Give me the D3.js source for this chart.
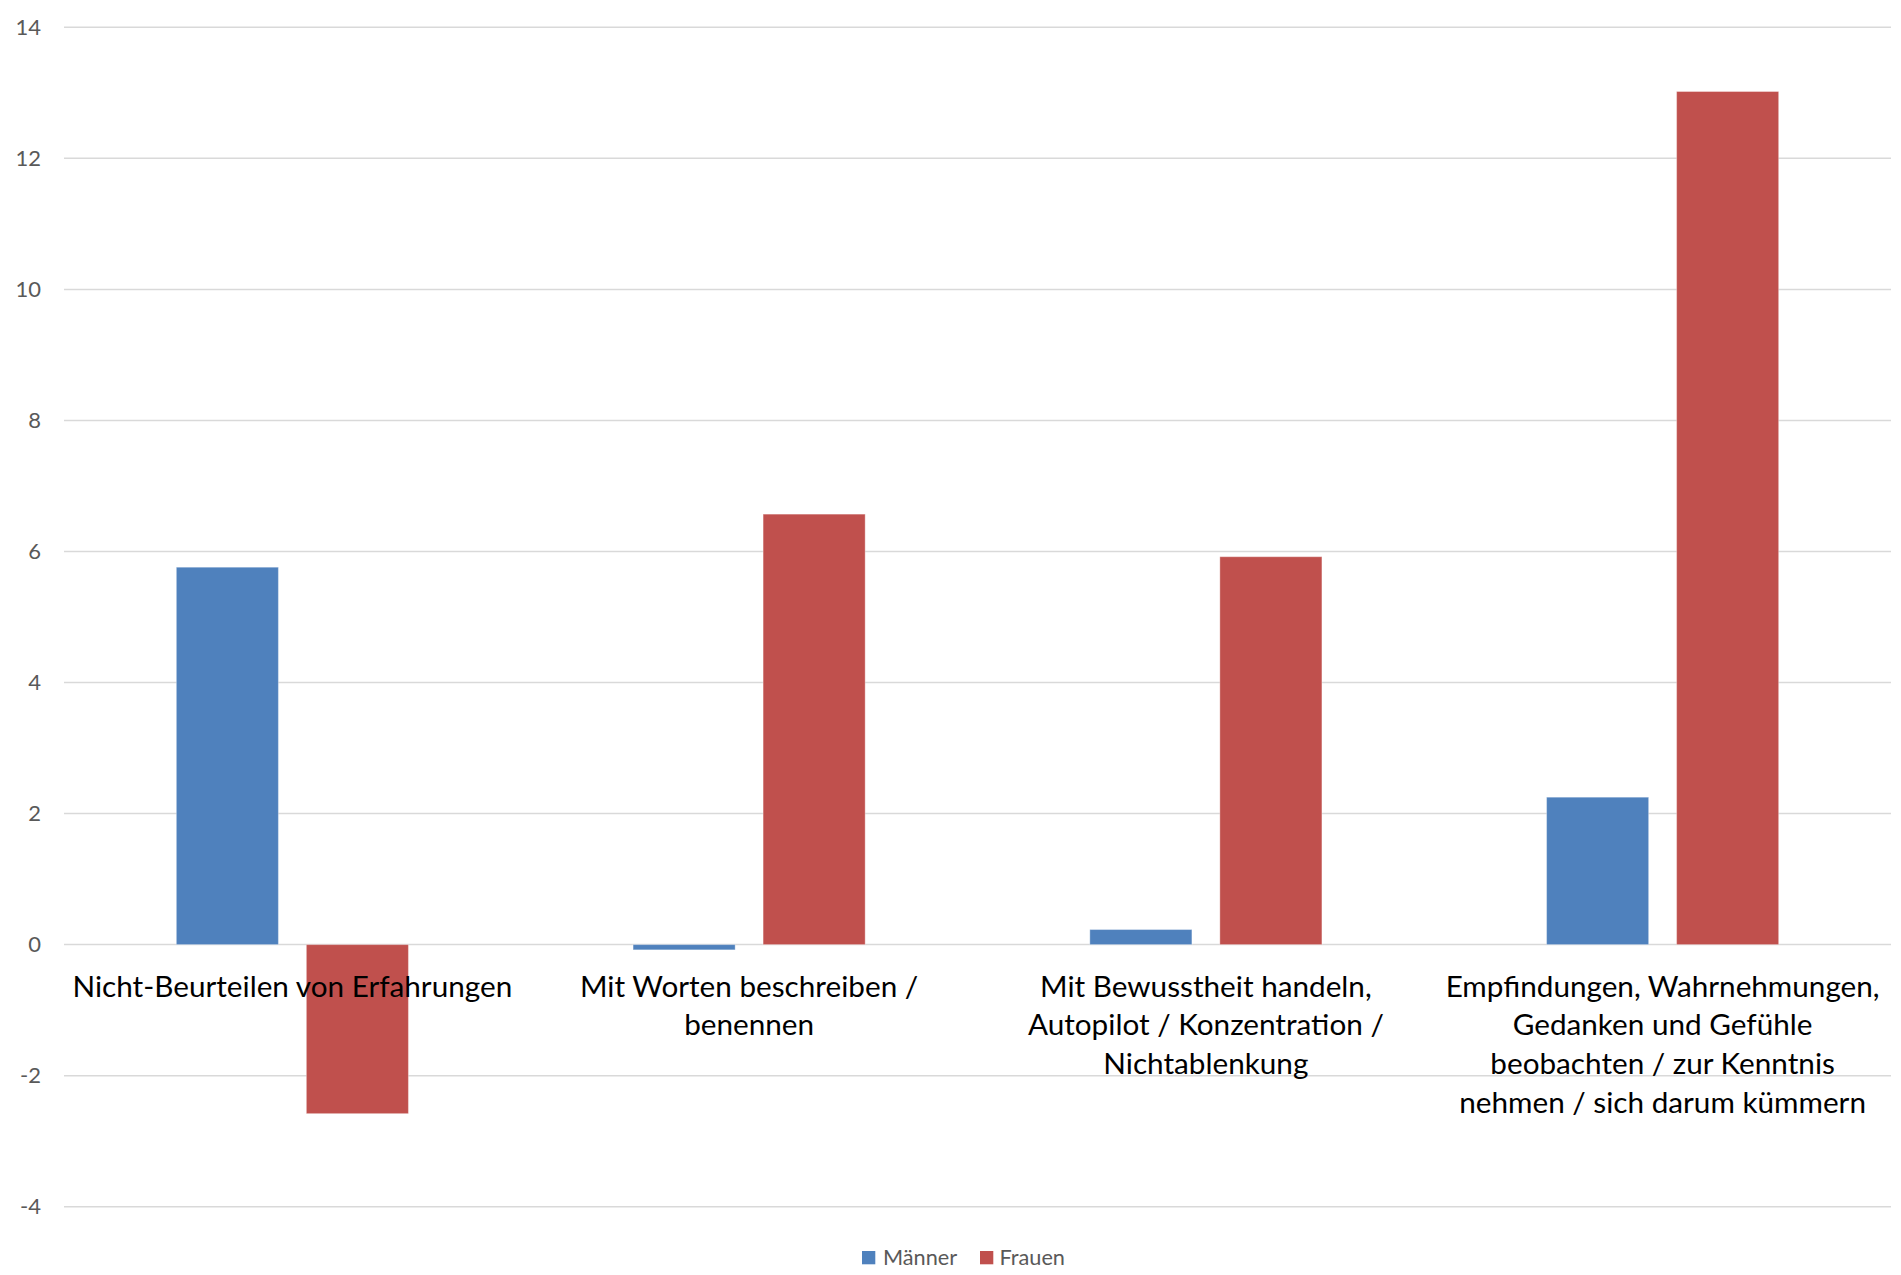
<!DOCTYPE html>
<html>
<head>
<meta charset="utf-8">
<script src="https://cdn.jsdelivr.net/npm/d3@7"></script>
<style>
  html, body { margin: 0; padding: 0; background: #ffffff; }
  svg { display: block; }
</style>
</head>
<body>
<svg id="chart" width="1901" height="1275"></svg>
<script>
// Categories (facets of mindfulness) and their wrapped label lines
const categories = [
  "Nicht-Beurteilen von Erfahrungen",
  "Mit Worten beschreiben / benennen",
  "Mit Bewusstheit handeln, Autopilot / Konzentration / Nichtablenkung",
  "Empfindungen, Wahrnehmungen, Gedanken und Gefühle beobachten / zur Kenntnis nehmen / sich darum kümmern"
];
const categoryLines = [
  ["Nicht-Beurteilen von Erfahrungen"],
  ["Mit Worten beschreiben /", "benennen"],
  ["Mit Bewusstheit handeln,", "Autopilot / Konzentration /", "Nichtablenkung"],
  ["Empfindungen, Wahrnehmungen,", "Gedanken und Gefühle", "beobachten / zur Kenntnis", "nehmen / sich darum kümmern"]
];

// Series
const seriesNames = ["Männer", "Frauen"];
const maennerValues = [5.76, -0.08, 0.23, 2.25];
const frauenValues = [-2.58, 6.57, 5.92, 13.02];
const seriesColors = ["#4f81bd", "#c0504d"];

// Value axis ticks
const yTicks = [-4, -2, 0, 2, 4, 6, 8, 10, 12, 14];

const svg = d3.select("#chart");
const plot = { left: 64, right: 1891, top: 27.3, bottom: 1206.7 };

const x = d3.scaleBand()
  .domain(categories)
  .range([plot.left, plot.right])
  .paddingInner(0)
  .paddingOuter(0);

const xInner = d3.scaleBand()
  .domain(seriesNames)
  .range([0, x.bandwidth()])
  .paddingInner(0.215)
  .paddingOuter(0.864);

const y = d3.scaleLinear()
  .domain([d3.min(yTicks), d3.max(yTicks)])
  .range([plot.bottom, plot.top]);

const fontFamily = "Lato, 'Open Sans', sans-serif";

// Horizontal gridlines
svg.append("g")
  .selectAll("line")
  .data(yTicks)
  .join("line")
  .attr("x1", plot.left)
  .attr("x2", plot.right)
  .attr("y1", d => y(d))
  .attr("y2", d => y(d))
  .attr("stroke", "#d9d9d9")
  .attr("stroke-width", 1.5);

// Value axis labels (plain hyphen for negatives)
const yAxis = d3.axisLeft(y)
  .tickValues(yTicks)
  .tickFormat(d => String(d))
  .tickSize(0)
  .tickPadding(0);
const yAxisG = svg.append("g")
  .attr("transform", `translate(41,0)`)
  .call(yAxis);
yAxisG.select(".domain").remove();
yAxisG.selectAll("text")
  .attr("fill", "#595959")
  .style("font-family", fontFamily)
  .style("font-size", "22px");

// Bars
const rows = categories.map((c, i) => ({
  category: c,
  values: [
    { series: seriesNames[0], value: maennerValues[i], color: seriesColors[0] },
    { series: seriesNames[1], value: frauenValues[i], color: seriesColors[1] }
  ]
}));

const groups = svg.append("g")
  .selectAll("g")
  .data(rows)
  .join("g")
  .attr("transform", d => `translate(${x(d.category)},0)`);

groups.selectAll("rect")
  .data(d => d.values)
  .join("rect")
  .attr("x", d => xInner(d.series))
  .attr("width", xInner.bandwidth())
  .attr("y", d => y(Math.max(0, d.value)))
  .attr("height", d => Math.abs(y(d.value) - y(0)))
  .attr("fill", d => d.color)
  .attr("stroke", "rgba(255,255,255,0.35)")
  .attr("stroke-width", 1);

// Category labels, drawn above the bars
const labelG = svg.append("g");
categories.forEach((c, i) => {
  const t = labelG.append("text")
    .attr("x", x(c) + x.bandwidth() / 2)
    .attr("y", 996.5)
    .attr("text-anchor", "middle")
    .attr("fill", "#000000")
    .style("font-family", fontFamily)
    .style("font-size", "29.7px");
  t.selectAll("tspan")
    .data(categoryLines[i])
    .join("tspan")
    .attr("x", x(c) + x.bandwidth() / 2)
    .attr("dy", (d, j) => j === 0 ? 0 : 38.9)
    .text(d => d);
});

// Legend
const legend = svg.append("g");
const legendItems = [
  { name: seriesNames[0], color: seriesColors[0], sx: 862, tx: 883 },
  { name: seriesNames[1], color: seriesColors[1], sx: 980, tx: 999.5 }
];
legend.selectAll("rect")
  .data(legendItems)
  .join("rect")
  .attr("x", d => d.sx)
  .attr("y", 1251)
  .attr("width", 13.3)
  .attr("height", 13.3)
  .attr("fill", d => d.color);
legend.selectAll("text")
  .data(legendItems)
  .join("text")
  .attr("x", d => d.tx)
  .attr("y", 1264.5)
  .attr("fill", "#595959")
  .style("font-family", fontFamily)
  .style("font-size", "21.7px")
  .text(d => d.name);
</script>
</body>
</html>
